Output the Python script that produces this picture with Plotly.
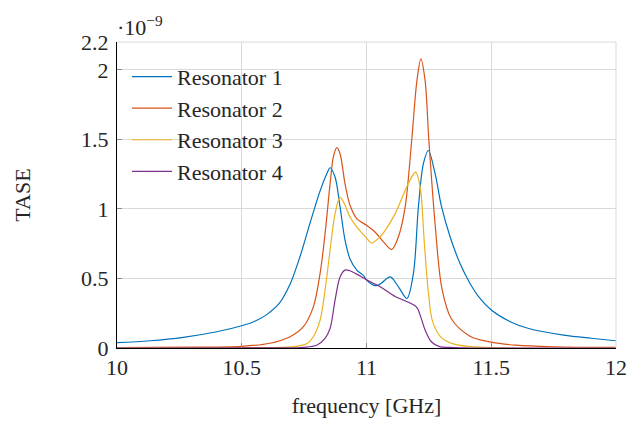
import plotly.graph_objects as go

# frequency [GHz] and TASE values (in units of 1e-9)
f1 = [10.0, 10.132, 10.266, 10.4, 10.5, 10.55, 10.6, 10.65, 10.694, 10.734, 10.774, 10.814,
      10.841, 10.854, 10.874, 10.894, 10.914, 10.934, 10.961, 10.988, 11.0, 11.028, 11.045, 11.061,
      11.095, 11.128, 11.162, 11.188, 11.208, 11.228, 11.248, 11.275, 11.301, 11.335, 11.375,
      11.415, 11.455, 11.5, 11.576, 11.65, 11.79, 11.9, 12.0]
r1 = [0.038, 0.052, 0.077, 0.117, 0.16, 0.19, 0.24, 0.32, 0.46, 0.66, 0.9, 1.13,
      1.253, 1.296, 1.229, 1.014, 0.775, 0.64, 0.56, 0.52, 0.49, 0.452, 0.45, 0.468,
      0.511, 0.44, 0.356, 0.536, 1.014, 1.325, 1.42, 1.253, 1.014, 0.8, 0.607,
      0.464, 0.356, 0.273, 0.189, 0.14, 0.093, 0.07, 0.052]

f2 = [10.0, 10.3, 10.5, 10.613, 10.694, 10.747, 10.787, 10.814, 10.834, 10.854, 10.867, 10.881,
      10.894, 10.914, 10.934, 10.961, 11.0, 11.034, 11.068, 11.101, 11.128, 11.155, 11.181, 11.202,
      11.218, 11.235, 11.25, 11.275, 11.302, 11.34, 11.415, 11.5, 11.6, 11.75, 12.0]
r2 = [0.003, 0.006, 0.012, 0.034, 0.081, 0.153, 0.296, 0.536, 0.823, 1.18, 1.372, 1.44,
      1.397, 1.18, 1.026, 0.93, 0.882, 0.834, 0.763, 0.708, 0.8, 1.014, 1.49, 1.92,
      2.078, 1.92, 1.49, 0.89, 0.43, 0.21, 0.085, 0.042, 0.02, 0.009, 0.004]

f3 = [10.0, 10.5, 10.7, 10.76, 10.787, 10.814, 10.834, 10.854, 10.874, 10.894, 10.914, 10.934,
      10.961, 11.0, 11.02, 11.055, 11.075, 11.115, 11.155, 11.181, 11.197, 11.215, 11.232, 11.248,
      11.265, 11.3, 11.348, 11.45, 12.0]
r3 = [0.001, 0.003, 0.008, 0.03, 0.081, 0.2, 0.416, 0.703, 0.966, 1.085, 1.026, 0.942,
      0.87, 0.79, 0.755, 0.8, 0.846, 0.966, 1.133, 1.229, 1.265, 1.16, 0.75, 0.4,
      0.19, 0.075, 0.03, 0.006, 0.001]

f4 = [10.0, 10.6, 10.75, 10.8, 10.834, 10.854, 10.874, 10.894, 10.914, 10.934, 10.961, 11.0,
      11.055, 11.115, 11.2, 11.218, 11.235, 11.26, 11.29, 11.35, 12.0]
r4 = [0.0, 0.001, 0.005, 0.02, 0.07, 0.14, 0.344, 0.511, 0.56, 0.555, 0.531, 0.49,
      0.44, 0.37, 0.296, 0.22, 0.129, 0.045, 0.012, 0.003, 0.0]

names = ["Resonator 1", "Resonator 2", "Resonator 3", "Resonator 4"]
colors = ["#0072BD", "#D95319", "#EDB120", "#7E2F8E"]
xticks = [10, 10.5, 11, 11.5, 12]
xticktext = ["10", "10.5", "11", "11.5", "12"]
yticks = [0, 0.5, 1, 1.5, 2, 2.2]
yticktext = ["0", "0.5", "1", "1.5", "2", "2.2"]

FONT = "Liberation Serif"
TXT = "#262626"
fig = go.Figure()
for fx, ry, nm, c in zip([f1, f2, f3, f4], [r1, r2, r3, r4], names, colors):
    fig.add_trace(go.Scatter(x=fx, y=ry, name=nm, mode="lines",
                             line=dict(color=c, width=1.2, shape="spline", smoothing=0.9)))

fig.update_layout(
    width=630, height=425,
    margin=dict(l=117, r=14, t=42, b=77, autoexpand=False),
    paper_bgcolor="white", plot_bgcolor="white",
    font=dict(family=FONT, size=22, color=TXT),
    showlegend=True,
    legend=dict(x=0.02, y=0.955, xanchor="left", yanchor="top", itemwidth=40,
                bgcolor="rgba(0,0,0,0)", borderwidth=0,
                font=dict(family=FONT, size=22, color=TXT)),
    xaxis=dict(range=[10, 12], tickvals=xticks, ticktext=xticktext,
               tickfont=dict(family=FONT, size=22, color=TXT),
               showgrid=True, gridcolor="#d9d9d9", gridwidth=1,
               showline=True, linecolor="black", linewidth=1,
               ticks="inside", ticklen=5, tickcolor="#8c8c8c",
               zeroline=False,
               title=dict(text="frequency [GHz]", font=dict(family=FONT, size=22, color=TXT), standoff=18)),
    yaxis=dict(range=[0, 2.2], tickvals=yticks, ticktext=yticktext,
               tickfont=dict(family=FONT, size=22, color=TXT),
               ticklabelstandoff=3,
               showgrid=True, gridcolor="#d9d9d9", gridwidth=1,
               showline=True, linecolor="black", linewidth=1,
               ticks="inside", ticklen=5, tickcolor="#8c8c8c",
               zeroline=False,
               title=dict(text="TASE", font=dict(family=FONT, size=22, color=TXT), standoff=44)),
    shapes=[
        dict(type="line", xref="paper", yref="paper", x0=0, x1=1, y0=1, y1=1,
             line=dict(color="#d9d9d9", width=1)),
        dict(type="line", xref="paper", yref="paper", x0=1, x1=1, y0=0, y1=1,
             line=dict(color="#d9d9d9", width=1)),
    ],
    annotations=[
        dict(text="·10<sup>−9</sup>", xref="paper", yref="paper", x=0, y=1,
             xanchor="left", yanchor="bottom", showarrow=False, yshift=0, xshift=-2,
             font=dict(size=22, family=FONT, color=TXT)),
    ],
)

fig.write_html("out.html")
